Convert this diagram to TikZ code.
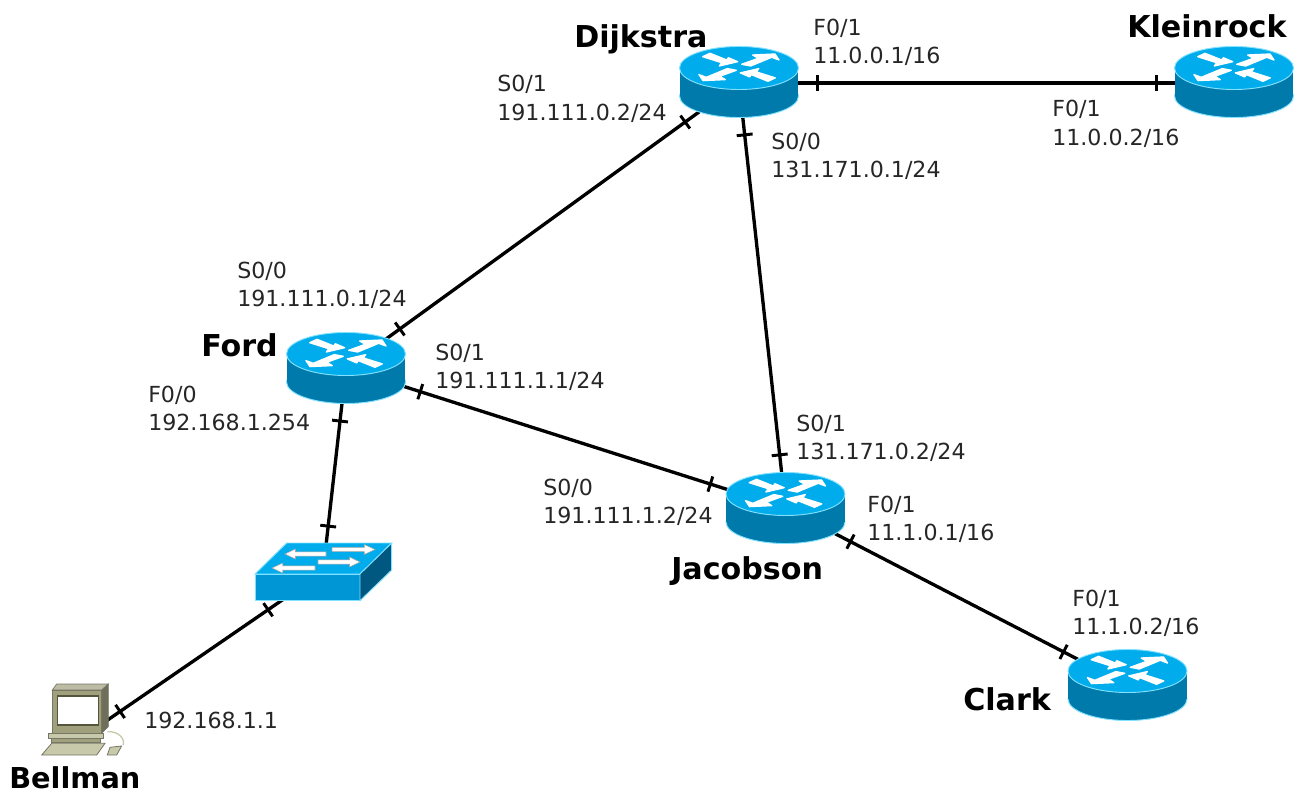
\documentclass[tikz,border=0pt]{standalone}
\usepackage{fontspec}
\setmainfont{DejaVu Sans}
\definecolor{rtop}{RGB}{0,172,236}
\definecolor{rside}{RGB}{0,122,170}
\definecolor{redge}{RGB}{130,225,255}
\definecolor{sfront}{RGB}{0,150,214}
\definecolor{sside}{RGB}{0,88,128}
\definecolor{pclight}{RGB}{200,200,170}
\definecolor{pcmid}{RGB}{160,160,125}
\definecolor{pcdark}{RGB}{85,85,62}
\tikzset{
  x=0.75pt,y=-0.75pt,
  anchorbox/.style={inner sep=0pt,minimum size=0pt,outer sep=0pt},
  link/.style={line width=2.5pt,black},
  tk/.style={sloped,inner sep=0pt,outer sep=0pt,pos=#1},
  addr/.style={anchor=base west,align=left,inner sep=0pt,font=\fontsize{16.6}{21}\selectfont,text=black!85},
  devname/.style={anchor=base west,inner sep=0pt,font=\fontsize{22.6}{26}\selectfont\bfseries},
  edgeline/.style={draw=redge,line width=0.7pt},
  rarrow/.style={fill=white,draw=white,line width=1pt,line join=round},
  router/.pic={
    \fill[rside,edgeline] (0,14) ellipse [x radius=59.5,y radius=21.5];
    \fill[rside] (-59.1,-14) rectangle (59.1,14);
    \fill[rtop,edgeline] (0,-14) ellipse [x radius=59.5,y radius=21.5];
    \path[rarrow] (-36.3,-25.3)--(-29,-28.7)--(-12.3,-22)--(-10.7,-24.3)--(-1.3,-20.3)--(-19.7,-16)--(-17.3,-19.3)--cycle;
    \path[rarrow] (2.7,-17.7)--(19.3,-23.7)--(13.7,-27)--(36,-28)--(40,-22)--(32.7,-24.7)--(11.7,-16)--cycle;
    \begin{scope}[rotate around={180:(0,-14.7)}]
    \path[rarrow] (-36.3,-25.3)--(-29,-28.7)--(-12.3,-22)--(-10.7,-24.3)--(-1.3,-20.3)--(-19.7,-16)--(-17.3,-19.3)--cycle;
    \path[rarrow] (2.7,-17.7)--(19.3,-23.7)--(13.7,-27)--(36,-28)--(40,-22)--(32.7,-24.7)--(11.7,-16)--cycle;
    \end{scope}
  }
}
\newcommand{\tickbar}{\rule[-6pt]{2.2pt}{12pt}}
\newcommand{\swarw}[3]{\fill[white,draw=black!35,line width=.4pt] (#1,#3-2.2)--({#2-(#2-#1)*.25},#3-2.2)--({#2-(#2-#1)*.25},#3-5)--(#2,#3)--({#2-(#2-#1)*.25},#3+5)--({#2-(#2-#1)*.25},#3+2.2)--(#1,#3+2.2)--cycle;}
\begin{document}
\begin{tikzpicture}
\useasboundingbox (0,0) rectangle (1299,792);
\fill[white] (0,0) rectangle (1299,792);
% anchor nodes
\node[anchorbox] (dijkstra) at (739,83) {};
\node[anchorbox] (kleinrock) at (1234,83) {};
\node[anchorbox] (ford) at (346,368) {};
\node[anchorbox] (jacobson) at (785.5,508) {};
\node[anchorbox] (clark) at (1127.5,685) {};
\node[anchorbox] (switch) at (323,572) {};
\node[anchorbox] (bellman) at (80,739) {};
% connectors
\draw[link] (dijkstra) -- node[tk=.158]{\tickbar} node[tk=.844]{\tickbar} (kleinrock);
\draw[link] (dijkstra) -- node[tk=.137]{\tickbar} node[tk=.863]{\tickbar} (ford);
\draw[link] (dijkstra) -- node[tk=.122]{\tickbar} node[tk=.875]{\tickbar} (jacobson);
\draw[link] (ford) -- node[tk=.169]{\tickbar} node[tk=.829]{\tickbar} (jacobson);
\draw[link] (ford) -- node[tk=.26]{\tickbar} node[tk=.775]{\tickbar} (switch);
\draw[link] (switch) -- node[tk=.226]{\tickbar} node[tk=.835]{\tickbar} (bellman);
\draw[link] (jacobson) -- node[tk=.19]{\tickbar} node[tk=.813]{\tickbar} (clark);
% routers
\pic at (739,82) {router};
\pic at (1234,82) {router};
\pic at (346,368) {router};
\pic at (785.5,508) {router};
\pic at (1127.5,685) {router};
% switch
\fill[rtop,edgeline] (255,574)--(286.7,543)--(391.7,543)--(360,574)--cycle;
\fill[sfront,edgeline] (255,574) rectangle (360,600.7);
\fill[sside,edgeline] (360,574)--(391.7,543)--(391.7,570)--(360,600.7)--cycle;
\swarw{326}{285}{554}
\swarw{332}{375}{549.5}
\swarw{318}{360}{562}
\swarw{315}{272}{568}
% computer
\draw[pclight,line width=1pt] (107.3,731.7) .. controls (118,731) and (125,738) .. (123.3,745);
\fill[pcmid!70!white,draw=pcdark!80,line width=.5pt] (52.3,690)--(56.7,684)--(108.3,684)--(101.7,690)--cycle;
\fill[pcdark!85,draw=pcdark!80,line width=.5pt] (101.7,690)--(108.3,684)--(108.3,726.7)--(101.7,733.3)--cycle;
\fill[pcmid,draw=pcdark!80,line width=.6pt] (52.3,690) rectangle (101.7,733.3);
\fill[white,draw=pcdark,line width=.9pt] (57.7,696) rectangle (98.3,725);
\fill[pclight,draw=pcdark!80,line width=.5pt] (48.3,733.3) rectangle (103.3,738.3);
\fill[pcmid,draw=pcdark!80,line width=.5pt] (51.7,738.3) rectangle (100,742.7);
\fill[pclight,draw=pcdark!80,line width=.6pt] (51.7,743.3)--(105,743.3)--(96.7,755)--(41.7,755)--cycle;
\fill[pclight,draw=pcdark!80,line width=.6pt] (110,747.3)--(121.7,746)--(116.7,755)--(107.3,755)--cycle;
% names
\node[devname] (nd) at (574,48) {Dijkstra};
\node[devname] (nk) at (1127,38) {Kleinrock};
\node[devname] (nf) at (201,356) {Ford};
\node[devname] (nj) at (671,579) {Jacobson};
\node[devname] (nc) at (963,710) {Clark};
\node[devname,font=\fontsize{21.6}{26}\selectfont\bfseries] (nb) at (9,788) {Bellman};
% addresses
\node[addr] (a1) at (497,120) {S0/1\\191.111.0.2/24};
\node[addr] (a2) at (813,64) {F0/1\\11.0.0.1/16};
\node[addr] (a3) at (1052,145) {F0/1\\11.0.0.2/16};
\node[addr] (a4) at (771,177) {S0/0\\131.171.0.1/24};
\node[addr] (a5) at (237,306) {S0/0\\191.111.0.1/24};
\node[addr] (a6) at (435,388) {S0/1\\191.111.1.1/24};
\node[addr] (a7) at (148,430) {F0/0\\192.168.1.254};
\node[addr] (a8) at (796,459) {S0/1\\131.171.0.2/24};
\node[addr] (a9) at (543,523) {S0/0\\191.111.1.2/24};
\node[addr] (a10) at (867,540) {F0/1\\11.1.0.1/16};
\node[addr] (a11) at (1072,634) {F0/1\\11.1.0.2/16};
\node[addr] (a12) at (144,728) {192.168.1.1};
\end{tikzpicture}
\end{document}
